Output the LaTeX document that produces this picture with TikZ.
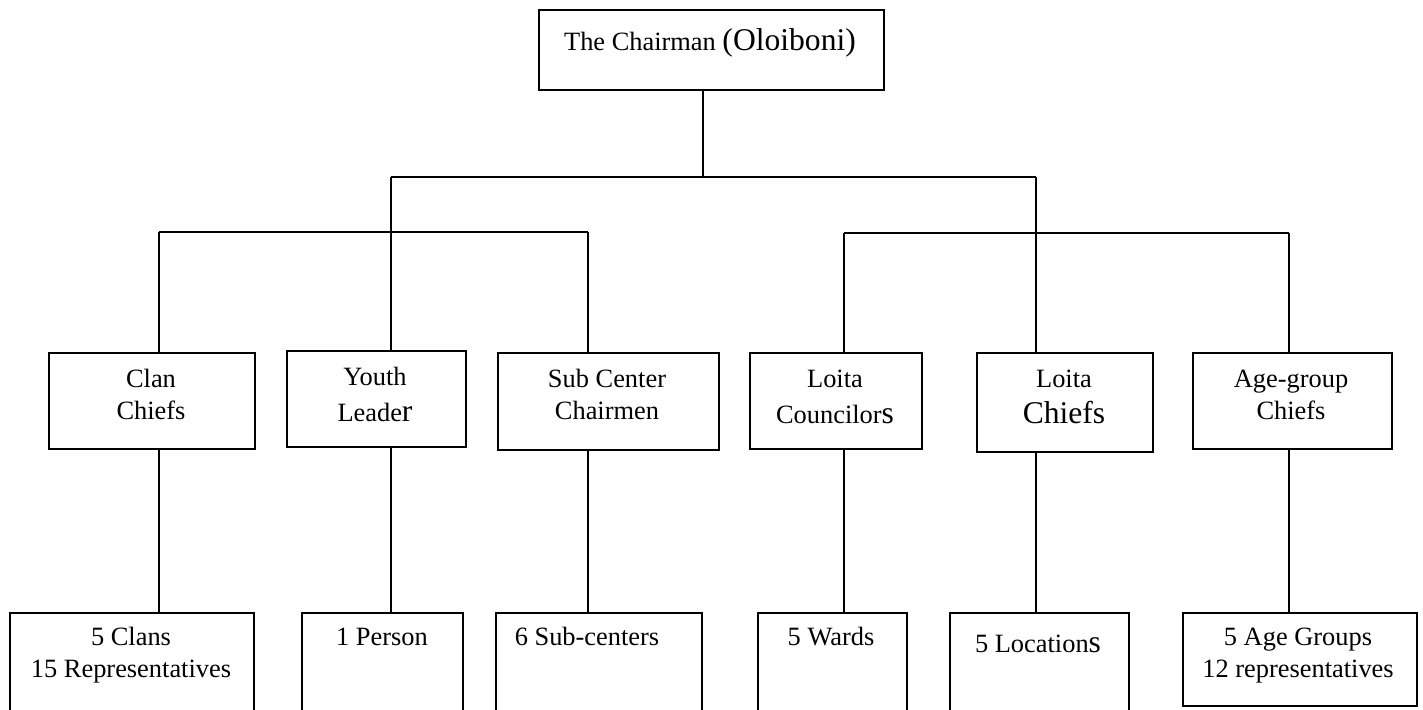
\documentclass[tikz,border=0pt]{standalone}
\usepackage{fontspec}
\setmainfont{Liberation Serif}
\usepackage{tikz}

\newcommand{\bigpart}[1]{{\fontsize{15.8}{18}\selectfont #1}}

\begin{document}
\begin{tikzpicture}[x=0.5pt,y=0.5pt,yscale=-1,xscale=1,
  box/.style={draw, line width=0.75pt, inner sep=0pt, anchor=north west},
  link/.style={line width=1pt},
  txt/.style={anchor=base, align=center, inner sep=0pt, font=\fontsize{13.2}{15.8}\selectfont}]
\useasboundingbox (0,0) rectangle (1423,709);
\clip (0,0) rectangle (1423,709);

%Shape: Rectangle (top)
\node[box, minimum width=172.5pt, minimum height=40pt] (chair) at (538,9) {};
%Shape: Rectangle (middle row)
\node[box, minimum width=103pt, minimum height=48pt] (clan) at (48,352) {};
\node[box, minimum width=89.5pt, minimum height=48pt] (youth) at (286,350) {};
\node[box, minimum width=110.5pt, minimum height=48.5pt] (subc) at (497,352) {};
\node[box, minimum width=86pt, minimum height=48pt] (counc) at (749,352) {};
\node[box, minimum width=88pt, minimum height=49.5pt] (lchief) at (976,352) {};
\node[box, minimum width=99.5pt, minimum height=48pt] (agec) at (1192,352) {};
%Shape: Rectangle (bottom row)
\node[box, minimum width=122pt, minimum height=60pt] (clanlow) at (9,612) {};
\node[box, minimum width=80.5pt, minimum height=60pt] (person) at (301,612) {};
\node[box, minimum width=103pt, minimum height=60pt] (subclow) at (495,612) {};
\node[box, minimum width=74.5pt, minimum height=60pt] (wards) at (757,612) {};
\node[box, minimum width=89.5pt, minimum height=60pt] (locs) at (949,612) {};
\node[box, minimum width=117pt, minimum height=46.5pt] (agelow) at (1182,612) {};

%Straight Lines
\coordinate (top) at (703,177);
\coordinate (mL) at (391,177);
\coordinate (mR) at (1036,177);
\coordinate (lL) at (159,232);
\coordinate (lR) at (588,232);
\coordinate (rL) at (844,233);
\coordinate (rR) at (1289,233);
\draw[link] (chair.south -| top) -- (top);
\draw[link] (mL) -- (mR);
\draw[link] (lL) -- (lR);
\draw[link] (rL) -- (rR);
\draw[link] (lL) -- (lL |- clan.north);
\draw[link] (mL) -- (mL |- youth.north);
\draw[link] (lR) -- (lR |- subc.north);
\draw[link] (rL) -- (rL |- counc.north);
\draw[link] (mR) -- (mR |- lchief.north);
\draw[link] (rR) -- (rR |- agec.north);
\draw[link] (lL |- clan.south) -- (lL |- clanlow.north);
\draw[link] (mL |- youth.south) -- (mL |- person.north);
\draw[link] (lR |- subc.south) -- (lR |- subclow.north);
\draw[link] (rL |- counc.south) -- (rL |- wards.north);
\draw[link] (mR |- lchief.south) -- (mR |- locs.north);
\draw[link] (rR |- agec.south) -- (rR |- agelow.north);

% Text Node
\node[txt] (chairtxt) at (710,50) {The Chairman \bigpart{(Oloiboni)}};
% Text Node
\node[txt] (clantxt) at (151,419) {Clan\\Chiefs};
\node[txt] (youthtxt) at (375,421) {Youth\\[2pt]Leade\bigpart{r}};
\node[txt] (subctxt) at (607,419) {Sub Center\\Chairmen};
\node[txt] (counctxt) at (835,423) {Loita\\[2pt]Councilor\bigpart{s}};
\node[txt] (lchieftxt) at (1064,423) {Loita\\[2pt]\bigpart{Chiefs}};
\node[txt] (agectxt) at (1291,419) {Age-group\\Chiefs};
% Text Node
\node[txt] (clanlowtxt) at (131,677) {5 Clans\\15 Representatives};
\node[txt] (persontxt) at (382,645) {1 Person};
\node[txt] (subclowtxt) at (587,645) {6 Sub-centers};
\node[txt] (wardstxt) at (831,645) {5 Wards};
\node[txt] (locstxt) at (1038,652) {5 Location\bigpart{s}};
\node[txt] (agelowtxt) at (1298,677) {5 Age Groups\\12 representatives};

\end{tikzpicture}
\end{document}
